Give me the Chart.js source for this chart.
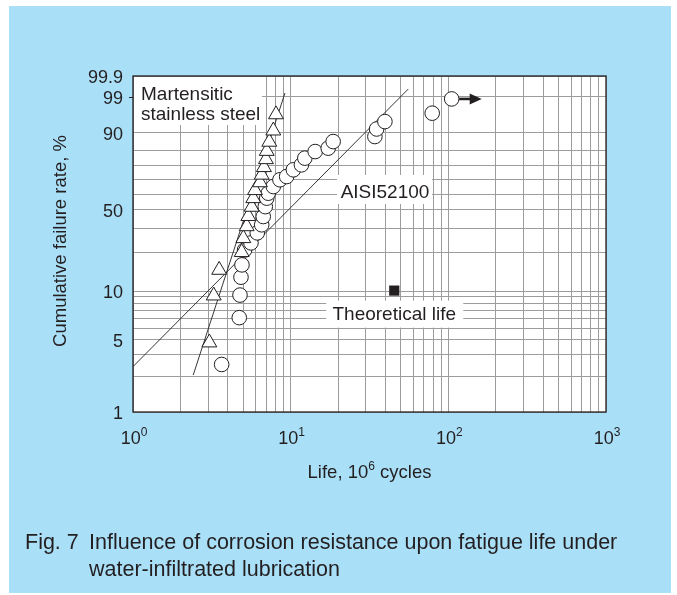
<!DOCTYPE html>
<html>
<head>
<meta charset="utf-8">
<script src="https://cdn.jsdelivr.net/npm/chart.js@4.4.1/dist/chart.umd.min.js"></script>
<style>
  html, body { margin: 0; padding: 0; background: #ffffff; }
  canvas { display: block; }
</style>
</head>
<body>
<canvas id="chart" width="677" height="595"></canvas>
<script>
// Life in 10^6 cycles and cumulative failure rate in %
const stainlessLife = [3.05, 3.25, 3.52, 4.89, 5.01, 5.26, 5.39, 5.66, 5.79, 5.94, 6.39, 6.55, 6.77, 6.97, 7.05, 7.32, 7.76, 8.07];
const stainlessRate = [3.8, 9.2, 14.7, 20.1, 25.5, 31.0, 36.4, 41.8, 47.3, 52.7, 58.2, 63.6, 69.0, 74.5, 79.9, 85.3, 90.8, 96.2];

const bearingLife = [3.65, 4.72, 4.77, 4.84, 4.91, 5.10, 5.60, 6.14, 6.55, 6.70, 6.90, 7.05, 7.21, 7.76, 8.55, 9.43, 10.4, 11.7, 12.3, 14.3, 17.3, 18.6, 34.2, 35.1, 39.6, 79.0, 105];
const bearingRate = [2.5, 6.1, 9.3, 12.9, 16.1, 20.9, 23.6, 27.9, 31.8, 36.2, 42.0, 47.4, 50.7, 55.3, 60.1, 62.4, 67.2, 70.7, 75.3, 79.6, 81.7, 85.5, 88.1, 91.5, 94.2, 96.5, 98.8];

// Weibull fit lines (two end points each)
const stainlessFitLife = [2.41, 9.2];
const stainlessFitRate = [2.04, 99.3];
const bearingFitLife = [1.0, 55.7];
const bearingFitRate = [2.4, 99.53];

// Calculated L10 life
const theoreticalLife = [45.4];
const theoreticalRate = [10.1];

// Axes
const rateGrid = [1, 2, 3, 4, 5, 6, 7, 8, 9, 10, 20, 30, 40, 50, 60, 70, 80, 90, 99, 99.9];
const rateTickAt = [1, 4, 10, 40, 90, 99, 99.9];
const rateTickText = ['1', '5', '10', '50', '90', '99', '99.9'];
const lifeGrid = [1, 2, 3, 4, 5, 6, 7, 8, 9, 10, 20, 30, 40, 50, 60, 70, 80, 90, 100, 200, 300, 400, 500, 600, 700, 800, 900, 1000];
const lifeDecades = [1, 10, 100, 1000];
const lifeExponents = ['0', '1', '2', '3'];

const INK = '#231f20';
const FONT = '"Liberation Sans", Arial, Helvetica, sans-serif';

// Weibull probability paper: ln(-ln(1 - F))
const weib = p => Math.log(-Math.log(1 - p / 100));
const pairs = (xs, ps) => xs.map((x, i) => ({ x: x, y: weib(ps[i]) }));

// Text with a raised exponent, e.g. 10^6
function supText(ctx, parts, x, y, size, align) {
  const supSize = Math.round(size * 0.66);
  let total = 0;
  const widths = parts.map(p => {
    ctx.font = (p.sup ? supSize : size) + 'px ' + FONT;
    const w = ctx.measureText(p.t).width;
    total += w;
    return w;
  });
  let cx = align === 'center' ? x - total / 2 : x;
  ctx.textAlign = 'left';
  ctx.textBaseline = 'alphabetic';
  parts.forEach((p, i) => {
    ctx.font = (p.sup ? supSize : size) + 'px ' + FONT;
    ctx.fillText(p.t, cx, p.sup ? y - size * 0.42 : y);
    cx += widths[i];
  });
}

const backdrop = {
  id: 'backdrop',
  beforeDraw(chart) {
    const { ctx, chartArea: a } = chart;
    ctx.save();
    ctx.fillStyle = '#ffffff';
    ctx.fillRect(0, 0, chart.width, chart.height);
    ctx.fillStyle = '#aadff8';
    ctx.fillRect(9, 6, 662, 587);
    ctx.fillStyle = '#ffffff';
    ctx.fillRect(a.left, a.top, a.right - a.left, a.bottom - a.top);
    ctx.restore();
  }
};

// Series names sit on white patches over the grid
const seriesNotes = {
  id: 'seriesNotes',
  beforeDatasetsDraw(chart) {
    const { ctx, chartArea: a, scales } = chart;
    ctx.save();
    ctx.fillStyle = '#ffffff';
    ctx.fillRect(a.left + 1, a.top + 1, 128, 48);
    ctx.fillRect(337, 175, 95, 29);
    const tx = scales.x.getPixelForValue(theoreticalLife[0]);
    const ty = scales.y.getPixelForValue(weib(theoreticalRate[0]));
    ctx.fillRect(tx - 68, ty + 10, 137, 27);

    ctx.fillStyle = INK;
    ctx.font = '19px ' + FONT;
    ctx.textBaseline = 'alphabetic';
    ctx.textAlign = 'left';
    ctx.fillText('Martensitic', a.left + 8, a.top + 24);
    ctx.fillText('stainless steel', a.left + 8, a.top + 44);
    ctx.textAlign = 'center';
    ctx.fillText('AISI52100', 385, 198);
    ctx.fillText('Theoretical life', tx, ty + 29);
    ctx.restore();
  }
};

const frame = {
  id: 'frame',
  afterDraw(chart) {
    const { ctx, chartArea: a, scales } = chart;
    ctx.save();
    // plot border
    ctx.strokeStyle = INK;
    ctx.lineWidth = 1.3;
    ctx.strokeRect(a.left, a.top, a.right - a.left, a.bottom - a.top);
    // short tick at 99 %
    const y99 = scales.y.getPixelForValue(weib(99));
    ctx.lineWidth = 1;
    ctx.beginPath();
    ctx.moveTo(a.left - 4, Math.round(y99) + 0.5);
    ctx.lineTo(a.left, Math.round(y99) + 0.5);
    ctx.stroke();

    ctx.fillStyle = INK;
    // y tick labels
    ctx.font = '18px ' + FONT;
    ctx.textAlign = 'right';
    ctx.textBaseline = 'alphabetic';
    rateTickAt.forEach((v, i) => {
      const y = scales.y.getPixelForValue(weib(v));
      ctx.fillText(rateTickText[i], a.left - 10, y + 7);
    });
    // x tick labels
    lifeDecades.forEach((v, i) => {
      const x = scales.x.getPixelForValue(v);
      supText(ctx, [{ t: '10' }, { t: lifeExponents[i], sup: true }], x + 1, a.bottom + 32, 18, 'center');
    });
    // axis titles
    supText(ctx, [{ t: 'Life, 10' }, { t: '6', sup: true }, { t: ' cycles' }], (a.left + a.right) / 2, 478, 18.5, 'center');
    ctx.save();
    ctx.translate(61, 241);
    ctx.rotate(-Math.PI / 2);
    ctx.font = '18.5px ' + FONT;
    ctx.textAlign = 'center';
    ctx.textBaseline = 'middle';
    ctx.fillText('Cumulative failure rate, %', 0, 0);
    ctx.restore();

    // arrow after the last (unfailed) specimen
    const last = bearingLife.length - 1;
    const px = scales.x.getPixelForValue(bearingLife[last]);
    const py = scales.y.getPixelForValue(weib(bearingRate[last]));
    ctx.strokeStyle = INK;
    ctx.lineWidth = 2.6;
    ctx.beginPath();
    ctx.moveTo(px + 7.5, py);
    ctx.lineTo(px + 20, py);
    ctx.stroke();
    ctx.beginPath();
    ctx.moveTo(px + 30, py);
    ctx.lineTo(px + 18, py - 5.5);
    ctx.lineTo(px + 18, py + 5.5);
    ctx.closePath();
    ctx.fill();

    // caption
    ctx.font = '21.5px ' + FONT;
    ctx.textAlign = 'left';
    ctx.fillText('Fig. 7', 25, 549);
    ctx.fillText('Influence of corrosion resistance upon fatigue life under', 89, 549);
    ctx.fillText('water-infiltrated lubrication', 89, 576);
    ctx.restore();
  }
};

const lineStyle = { showLine: true, borderColor: INK, borderWidth: 0.9, pointRadius: 0, pointHoverRadius: 0, fill: false };

new Chart(document.getElementById('chart'), {
  type: 'scatter',
  data: {
    datasets: [
      Object.assign({ label: 'Martensitic fit', data: pairs(stainlessFitLife, stainlessFitRate), order: 5 }, lineStyle),
      Object.assign({ label: 'AISI52100 fit', data: pairs(bearingFitLife, bearingFitRate), order: 4 }, lineStyle),
      {
        label: 'AISI52100',
        data: pairs(bearingLife, bearingRate),
        pointStyle: 'circle', pointRadius: 7.3, pointBorderWidth: 1,
        pointBackgroundColor: '#ffffff', pointBorderColor: INK, order: 3
      },
      {
        label: 'Martensitic stainless steel',
        data: pairs(stainlessLife, stainlessRate),
        pointStyle: 'triangle', pointRadius: 8.6, pointBorderWidth: 1,
        pointBackgroundColor: '#ffffff', pointBorderColor: INK, order: 2
      },
      {
        label: 'Theoretical life',
        data: pairs(theoreticalLife, theoreticalRate),
        pointStyle: 'rect', pointRadius: 7.2, pointBorderWidth: 0,
        pointBackgroundColor: INK, pointBorderColor: INK, order: 1
      }
    ]
  },
  options: {
    responsive: false,
    animation: false,
    devicePixelRatio: 1,
    layout: { padding: { left: 133, top: 76, right: 71, bottom: 183 } },
    plugins: { legend: { display: false }, tooltip: { enabled: false } },
    scales: {
      x: {
        type: 'logarithmic', min: 1, max: 1000,
        afterBuildTicks: s => { s.ticks = lifeGrid.map(v => ({ value: v })); },
        ticks: { display: false },
        grid: { color: '#9c9c9c', lineWidth: 1, drawTicks: false },
        border: { display: false }
      },
      y: {
        type: 'linear', min: weib(1), max: weib(99.9),
        afterBuildTicks: s => { s.ticks = rateGrid.map(v => ({ value: weib(v) })); },
        ticks: { display: false },
        grid: { color: '#9c9c9c', lineWidth: 1, drawTicks: false },
        border: { display: false }
      }
    }
  },
  plugins: [backdrop, seriesNotes, frame]
});
</script>
</body>
</html>
